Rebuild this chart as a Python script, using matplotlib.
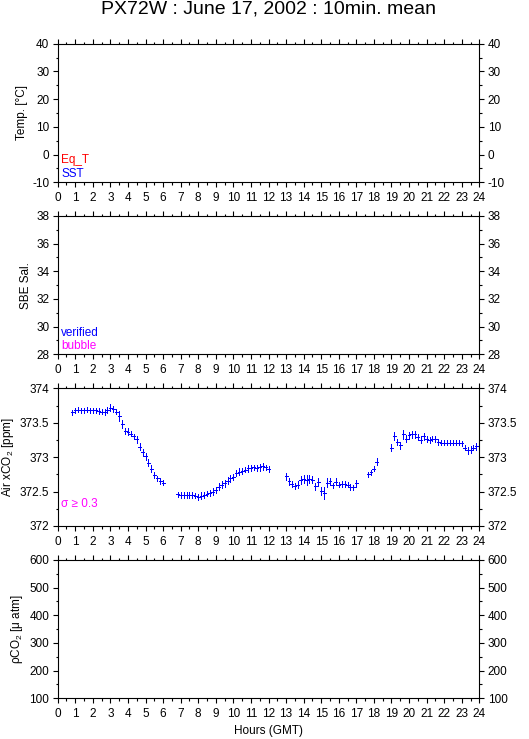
import matplotlib
matplotlib.use("Agg")
import matplotlib.pyplot as plt
from matplotlib.ticker import MultipleLocator, FuncFormatter
import numpy as np

plt.rcParams['font.family'] = ['Liberation Sans', 'DejaVu Sans']
plt.rcParams['mathtext.fontset'] = 'custom'
plt.rcParams['mathtext.rm'] = 'Liberation Sans'
plt.rcParams['mathtext.it'] = 'Liberation Sans:italic'

# ---------------- data ----------------
title = "PX72W : June 17, 2002 : 10min. mean"

# Air xCO2 10-minute means (time in minutes after 00:00 GMT)
air_time_min = [
    50, 60, 70, 80, 90, 100, 110, 120, 130, 140, 150, 160, 170, 180, 190, 200,
    210, 220, 230, 240, 250, 260, 270, 280, 290, 300, 310, 320, 330, 340, 350, 360,
    410, 420, 430, 440, 450, 460, 470, 480, 490, 500, 510, 520, 530, 540, 550, 560,
    570, 580, 590, 600, 610, 620, 630, 640, 650, 660, 670, 680, 690, 700, 710, 720,
    780, 790, 800, 810, 820, 830, 840, 850, 860, 870, 880, 890, 900, 910, 920, 930,
    940, 950, 960, 970, 980, 990, 1000, 1010, 1020,
    1060, 1070, 1080, 1090,
    1140, 1150, 1160, 1170, 1180, 1190, 1200, 1210, 1220, 1230, 1240, 1250, 1260,
    1270, 1280, 1290, 1300, 1310, 1320, 1330, 1340, 1350, 1360, 1370, 1380, 1390,
    1400, 1410, 1420, 1430, 1440,
]
air_xco2 = [
    373.65, 373.68, 373.69, 373.68, 373.68, 373.69, 373.68, 373.68, 373.68, 373.67,
    373.66, 373.655, 373.685, 373.72, 373.70, 373.66, 373.60, 373.48, 373.38, 373.37,
    373.34, 373.30, 373.26, 373.15, 373.07, 373.01, 372.92, 372.83, 372.74, 372.69,
    372.65, 372.63,
    372.46, 372.45, 372.45, 372.45, 372.45, 372.45, 372.44, 372.42, 372.44, 372.45,
    372.47, 372.48, 372.50, 372.52, 372.57, 372.60, 372.62, 372.66, 372.69, 372.71,
    372.77, 372.79, 372.80, 372.82, 372.84, 372.84, 372.85, 372.84, 372.85, 372.87,
    372.85, 372.83,
    372.72, 372.65, 372.61, 372.58, 372.60, 372.67, 372.68, 372.67, 372.68, 372.67,
    372.58, 372.64, 372.51, 372.48, 372.63, 372.65, 372.59, 372.64, 372.60, 372.61,
    372.61, 372.60, 372.57, 372.56, 372.62,
    372.75, 372.78, 372.835, 372.935,
    373.14, 373.31, 373.22, 373.17, 373.33, 373.27, 373.32, 373.33, 373.33, 373.29,
    373.25, 373.30, 373.26, 373.25, 373.27, 373.26, 373.22, 373.21, 373.21, 373.21,
    373.21, 373.21, 373.21, 373.21, 373.20, 373.14, 373.10, 373.11, 373.14, 373.16,
    373.16,
]
air_sd = [
    0.04, 0.04, 0.04, 0.04, 0.04, 0.04, 0.04, 0.04, 0.04, 0.04,
    0.04, 0.04, 0.05, 0.05, 0.04, 0.04, 0.07, 0.06, 0.05, 0.05,
    0.04, 0.04, 0.05, 0.05, 0.05, 0.05, 0.05, 0.05, 0.05, 0.04,
    0.04, 0.04,
    0.04, 0.04, 0.04, 0.04, 0.04, 0.04, 0.04, 0.04, 0.05, 0.05,
    0.04, 0.04, 0.05, 0.04, 0.05, 0.05, 0.05, 0.05, 0.05, 0.04,
    0.05, 0.05, 0.04, 0.04, 0.05, 0.04, 0.04, 0.04, 0.05, 0.05,
    0.04, 0.04,
    0.05, 0.05, 0.04, 0.04, 0.05, 0.06, 0.06, 0.07, 0.06, 0.05,
    0.05, 0.06, 0.06, 0.09, 0.06, 0.05, 0.04, 0.05, 0.04, 0.05,
    0.04, 0.04, 0.04, 0.04, 0.05,
    0.04, 0.04, 0.04, 0.05,
    0.05, 0.06, 0.05, 0.05, 0.07, 0.05, 0.05, 0.05, 0.05, 0.04,
    0.05, 0.05, 0.04, 0.04, 0.04, 0.04, 0.04, 0.04, 0.04, 0.04,
    0.04, 0.04, 0.04, 0.04, 0.04, 0.04, 0.05, 0.05, 0.04, 0.05,
    0.05,
]

hour_ticks = list(range(0, 25))
panel_ylabels = ["Temp. [°C]", "SBE Sal.", "Air xCO$_2$ [ppm]", "ρCO$_2$ [μ atm]"]
panel_ylims = [(-10, 40), (28, 38), (372, 374), (100, 600)]
panel_major = [10, 2, 0.5, 100]
panel_minor = [5, 1, 0.25, 50]

# ---------------- figure ----------------
W, H = 529, 739
fig = plt.figure(figsize=(W / 100, H / 100), dpi=100)

left_px, right_px = 57.7, 479.3
panel_px = [(43.7, 182.3), (216.0, 354.3), (388.3, 526.0), (560.0, 698.3)]

FS = 8.5
axes = []
for (top, bot), ylab, ylim, maj, mnr in zip(panel_px, panel_ylabels, panel_ylims,
                                            panel_major, panel_minor):
    ax = fig.add_axes([left_px / W, 1 - bot / H, (right_px - left_px) / W, (bot - top) / H])
    ax.set_xlim(0, 24)
    ax.set_ylim(*ylim)
    ax.set_xticks(hour_ticks)
    ax.set_xticklabels([str(h) for h in hour_ticks])
    ax.xaxis.set_minor_locator(MultipleLocator(0.5))
    ax.yaxis.set_major_locator(MultipleLocator(maj))
    ax.yaxis.set_minor_locator(MultipleLocator(mnr))
    ax.tick_params(which='both', direction='out', top=True, right=True,
                   labelright=True, labeltop=False, width=0.8, labelsize=FS,
                   colors='black')
    ax.tick_params(axis='y', which='major', pad=2.5)
    ax.tick_params(axis='x', which='major', pad=3.5)
    ax.tick_params(which='major', length=3.6)
    ax.tick_params(which='minor', length=1.8)
    for s in ax.spines.values():
        s.set_linewidth(0.8)
    ax.set_ylabel(ylab, fontsize=FS, labelpad=3)
    ax.yaxis.set_major_formatter(FuncFormatter(lambda v, _: "%g" % v))
    axes.append(ax)

# panel annotations
axes[0].text(0.008, 0.141, "Eq_T", color='#ff0000', fontsize=FS, transform=axes[0].transAxes, va='baseline')
axes[0].text(0.008, 0.040, "SST", color='#0000ff', fontsize=FS, transform=axes[0].transAxes, va='baseline')
axes[1].text(0.008, 0.132, "verified", color='#0000ff', fontsize=FS, transform=axes[1].transAxes, va='baseline')
axes[1].text(0.008, 0.040, "bubble", color='#ff00ff', fontsize=FS, transform=axes[1].transAxes, va='baseline')
axes[2].text(0.008, 0.138, "σ ≥ 0.3", color='#ff00ff', fontsize=FS, transform=axes[2].transAxes, va='baseline')

# Air xCO2 data
hours = np.array(air_time_min) / 60.0
eb = axes[2].errorbar(hours, air_xco2, yerr=air_sd, xerr=5 / 60.0, fmt='none',
                      ecolor='#0000ff', elinewidth=0.72, capsize=0)
for coll in eb.lines[2]:
    coll.set_antialiased(False)

fig.text(268.5 / W, 1 - 9.5 / H, title, ha='center', va='center', fontsize=14)
fig.text(268.5 / W, 1 - 731 / H, "Hours (GMT)", ha='center', va='center', fontsize=FS)

fig.savefig("out.png", dpi=100)
